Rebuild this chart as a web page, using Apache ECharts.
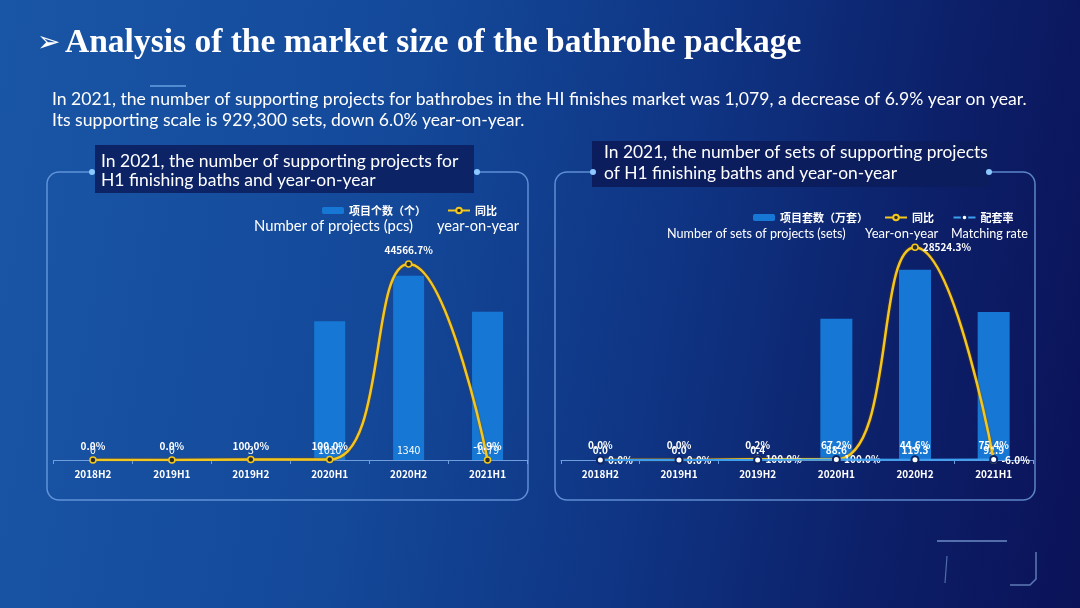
<!DOCTYPE html>
<html>
<head>
<meta charset="utf-8">
<script src="https://cdn.jsdelivr.net/npm/echarts@6/dist/echarts.min.js"></script>
<style>
html,body{margin:0;padding:0;width:1080px;height:608px;overflow:hidden;
background:linear-gradient(100deg,#1a56a6 0%,#14499a 35%,#0f3584 60%,#0c1f68 82%,#0b1258 100%);}
#c{width:1080px;height:608px;}
</style>
</head>
<body>
<div id="c"></div>
<script>
// ---- data ----
const categories = ['2018H2','2019H1','2019H2','2020H1','2020H2','2021H1'];
const projectCounts = [0, 0, 3, 1010, 1340, 1079];          // 项目个数（个）
const projectYoY = [0.0, 0.0, 100.0, 100.0, 44566.7, -6.9];  // 同比 %
const setCounts = [0.0, 0.0, 0.4, 88.6, 119.3, 92.9];        // 项目套数（万套）
const setYoY = [0.0, 0.0, 100.0, 100.0, 28524.3, -6.0];      // 同比 %
const matchingRate = [0.0, 0.0, 0.2, 67.2, 44.6, 75.4];      // 配套率 %

const titleText = 'Analysis of the market size of the bathrohe package';
const summaryLines = [
  'In 2021, the number of supporting projects for bathrobes in the HI finishes market was 1,079, a decrease of 6.9% year on year.',
  'Its supporting scale is 929,300 sets, down 6.0% year-on-year.'
];
const leftPanelTitle = ['In 2021, the number of supporting projects for', 'H1 finishing baths and year-on-year'];
const rightPanelTitle = ['In 2021, the number of sets of supporting projects', 'of H1 finishing baths and year-on-year'];

const chart = echarts.init(document.getElementById('c'));

const GOLD = '#f2c81e';
const BAR = '#1678d4';
const BLUE = '#3d9ff0';
const pct = p => p.value.toFixed(1) + '%';
const lblFont = {color:'#fff', fontSize:10, fontWeight:'bold', fontFamily:'Noto Sans CJK SC'};

const border = 'rgba(120,170,235,0.75)';
function panel(x, y, w, h) {
  return {type:'rect', shape:{x:x, y:y, width:w, height:h, r:12}, style:{fill:'none', stroke:border, lineWidth:1.5}, z:1};
}
function dot(x, y) {
  return {type:'circle', shape:{cx:x, cy:y, r:3}, style:{fill:'#8cc8ff'}, z:3};
}
function txt(x, y, t, size, extra) {
  return {type:'text', x:x, y:y, style:Object.assign({text:t, fill:'#fff', font:'normal ' + size + 'px Lato', textVerticalAlign:'middle'}, extra || {}), z:5};
}

const option = {
  backgroundColor:'transparent',
  animation:false,
  graphic:[
    // title
    {type:'text', x:37, y:44, style:{text:'➢', fill:'#fff', font:'bold 28px "DejaVu Sans"', textVerticalAlign:'middle'}, z:5},
    {type:'text', x:65, y:43, style:{text:titleText, fill:'#fff', font:'bold 33.5px "Liberation Serif"', textVerticalAlign:'middle'}, z:5},
    {type:'line', shape:{x1:150, y1:86, x2:186, y2:86}, style:{stroke:'rgba(120,180,240,0.8)', lineWidth:1.5}, z:5},
    txt(52, 99, summaryLines[0], 17.6),
    txt(52, 120, summaryLines[1], 17.6),
    // panels
    panel(47, 172, 481, 328),
    panel(555, 172, 480, 328),
    {type:'rect', shape:{x:95, y:145, width:379, height:48}, style:{fill:'#0c2466'}, z:2},
    {type:'rect', shape:{x:592, y:141, width:398, height:46}, style:{fill:'#0b1d5c'}, z:2},
    dot(92, 172), dot(477, 172), dot(593, 172), dot(989, 172),
    txt(101, 161, leftPanelTitle[0], 17.5),
    txt(101, 180, leftPanelTitle[1], 17.5),
    txt(604, 152, rightPanelTitle[0], 17.4),
    txt(604, 173, rightPanelTitle[1], 17.4),
    // legend english captions
    txt(254, 226, 'Number of projects (pcs)', 14.8),
    txt(437, 226, 'year-on-year', 14.6),
    txt(667, 234, 'Number of sets of projects (sets)', 12.6),
    txt(865, 234, 'Year-on-year', 13),
    txt(951, 234, 'Matching rate', 12.6),
    // bottom-right decoration
    {type:'line', shape:{x1:937, y1:541, x2:1007, y2:541}, style:{stroke:'rgba(150,190,240,0.7)', lineWidth:1.5}, z:1},
    {type:'line', shape:{x1:947, y1:556, x2:945, y2:583}, style:{stroke:'rgba(150,190,240,0.5)', lineWidth:1.2}, z:1},
    {type:'polyline', shape:{points:[[1010,585],[1030,585],[1036,579],[1036,552]]}, style:{stroke:'rgba(150,190,240,0.6)', lineWidth:1.5, fill:'none'}, z:1}
  ],
  legend:[
    {left:317, top:200, itemWidth:22, itemHeight:7, itemGap:21,
     data:['项目个数（个）', '同比'],
     textStyle:{color:'#fff', fontSize:11, fontWeight:'bold', fontFamily:'Noto Sans CJK SC'}},
    {left:748, top:207, itemWidth:22, itemHeight:7, itemGap:16,
     data:['项目套数（万套）', '同比 ', '配套率'],
     textStyle:{color:'#fff', fontSize:11, fontWeight:'bold', fontFamily:'Noto Sans CJK SC'}}
  ],
  grid:[
    {left:53.5, width:473.5, top:240, height:220},
    {left:561, width:472, top:240, height:220}
  ],
  xAxis:[0,1].map(i => ({
    type:'category', gridIndex:i, data:categories,
    axisLine:{lineStyle:{color:'#6f9ede', width:1}},
    axisTick:{show:true, length:4, lineStyle:{color:'#6f9ede'}},
    axisLabel:{color:'#fff', fontSize:10, fontWeight:'bold', fontFamily:'Noto Sans CJK SC', margin:9}
  })),
  yAxis:[
    {type:'value', gridIndex:0, min:0, max:1600, show:false, splitLine:{show:false}},
    {type:'value', gridIndex:0, min:0, max:50000, show:false, splitLine:{show:false}},
    {type:'value', gridIndex:1, min:0, max:138, show:false, splitLine:{show:false}},
    {type:'value', gridIndex:1, min:0, max:29500, show:false, splitLine:{show:false}}
  ],
  series:[
    {name:'项目个数（个）', type:'bar', xAxisIndex:0, yAxisIndex:0, data:projectCounts, barWidth:31,
     itemStyle:{color:BAR},
     label:{show:true, position:'insideBottom', distance:5, color:'#fff', fontSize:10.5, fontFamily:'Noto Sans CJK SC'}},
    {name:'同比', type:'line', xAxisIndex:0, yAxisIndex:1, data:projectYoY, smooth:true, z:5,
     symbol:'circle', symbolSize:6,
     lineStyle:{color:GOLD, width:2.5, shadowColor:'rgba(140,70,0,0.9)', shadowBlur:2},
     itemStyle:{color:'#2b2b2b', borderColor:GOLD, borderWidth:1.5},
     label:Object.assign({show:true, position:'top', distance:5, formatter:pct}, lblFont)},
    {name:'项目套数（万套）', type:'bar', xAxisIndex:1, yAxisIndex:2, data:setCounts, barWidth:32,
     itemStyle:{color:BAR},
     label:Object.assign({show:true, position:'insideBottom', distance:5, formatter:p => p.value.toFixed(1)}, lblFont)},
    {name:'同比 ', type:'line', xAxisIndex:1, yAxisIndex:3, data:setYoY, smooth:true, z:5,
     symbol:'circle', symbolSize:6,
     lineStyle:{color:GOLD, width:2.5, shadowColor:'rgba(140,70,0,0.9)', shadowBlur:2},
     itemStyle:{color:'#2b2b2b', borderColor:GOLD, borderWidth:1.5},
     label:Object.assign({show:true, position:'right', distance:4, formatter:pct}, lblFont)},
    {name:'配套率', type:'line', xAxisIndex:1, yAxisIndex:3, data:matchingRate, z:6,
     symbol:'emptyCircle', symbolSize:7,
     lineStyle:{color:BLUE, width:2},
     itemStyle:{color:'#0c2466', borderColor:BLUE, borderWidth:1.2},
     label:Object.assign({show:true, position:'top', distance:5, formatter:pct}, lblFont)}
  ]
};
chart.setOption(option);
</script>
</body>
</html>
